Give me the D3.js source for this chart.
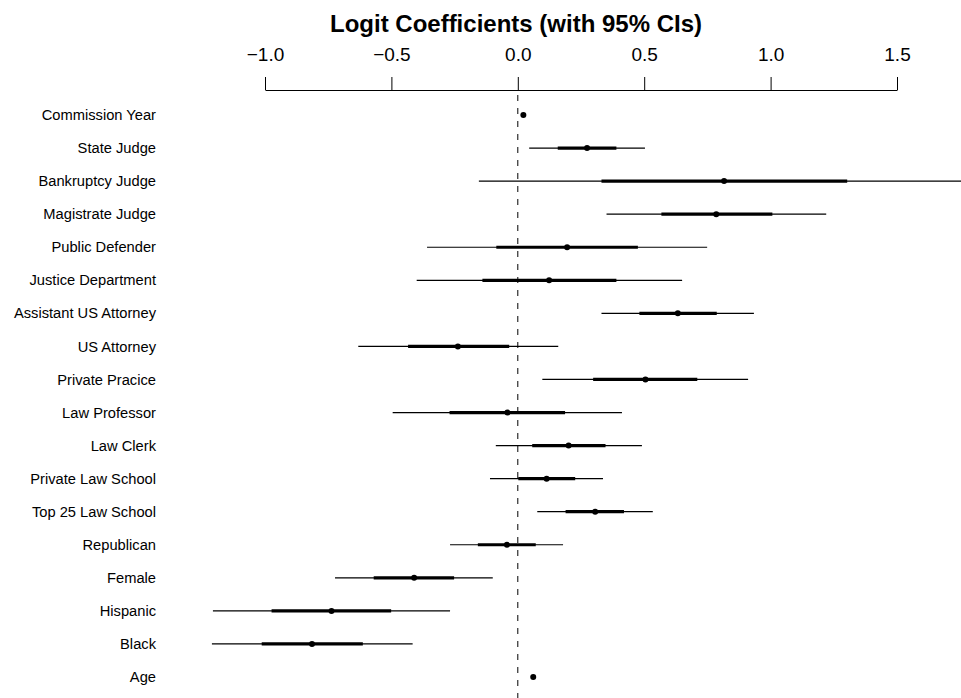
<!DOCTYPE html>
<html>
<head>
<meta charset="utf-8">
<script src="https://cdn.jsdelivr.net/npm/d3@7"></script>
<style>
  body { margin: 0; background: #fff; }
  text { font-family: "Liberation Sans", Arial, Helvetica, sans-serif; }
</style>
</head>
<body>
<div id="chart"></div>
<script>
// 1: DATA
const labels = ["Commission Year", "State Judge", "Bankruptcy Judge", "Magistrate Judge",
    "Public Defender", "Justice Department", "Assistant US Attorney", "US Attorney",
    "Private Pracice", "Law Professor", "Law Clerk", "Private Law School",
    "Top 25 Law School", "Republican", "Female", "Hispanic", "Black", "Age"];
const estimates = [0.022, 0.274, 0.816, 0.785, 0.195, 0.124, 0.633, -0.237,
    0.505, -0.041, 0.201, 0.114, 0.306, -0.043, -0.410, -0.737, -0.814, 0.061];
// +/- 1 SE (thick)
const innerLo = [0.018, 0.158, 0.331, 0.568, -0.085, -0.140, 0.481, -0.434,
    0.298, -0.270, 0.057, 0.002, 0.189, -0.158, -0.570, -0.974, -1.013, 0.057];
const innerHi = [0.026, 0.390, 1.303, 1.007, 0.475, 0.390, 0.787, -0.034,
    0.710, 0.187, 0.347, 0.227, 0.420, 0.071, -0.252, -0.501, -0.613, 0.065];
// 95% CI (thin)
const outerLo = [0.015, 0.045, -0.154, 0.351, -0.359, -0.400, 0.331, -0.631,
    0.097, -0.495, -0.087, -0.110, 0.077, -0.268, -0.723, -1.206, -1.210, 0.054];
const outerHi = [0.030, 0.503, 1.790, 1.220, 0.749, 0.650, 0.934, 0.160,
    0.911, 0.412, 0.491, 0.337, 0.534, 0.179, -0.099, -0.268, -0.416, 0.068];
const xTicks = [-1.0, -0.5, 0.0, 0.5, 1.0, 1.5];

const rows = labels.map((name, i) => ({
    name, est: estimates[i],
    lo1: innerLo[i], hi1: innerHi[i],
    lo2: outerLo[i], hi2: outerHi[i]
}));

// 2: SVG
const W = 961, H = 698;
const svg = d3.select("#chart").append("svg")
    .attr("width", W).attr("height", H);

// 3: SCALES
const x = d3.scaleLinear().domain([-1, 1.5]).range([265, 897]);
const y = d3.scalePoint().domain(labels).range([115, 677]);

// 4: AXIS (top)
const axisY = 90;
const axis = svg.append("g")
    .attr("transform", `translate(0,${axisY})`)
    .call(d3.axisTop(x)
        .tickValues(xTicks)
        .tickFormat(d => d3.format(".1f")(d).replace("-", "\u2212"))
        .tickSize(13)
        .tickSizeOuter(0)
        .tickPadding(16));
axis.select(".domain").attr("stroke", "#000").attr("stroke-width", 1);
axis.selectAll(".tick line").attr("stroke", "#000").attr("stroke-width", 1);
axis.selectAll(".tick text")
    .attr("fill", "#000")
    .style("font-size", "19px")
    .style("font-family", "'Liberation Sans', Arial, sans-serif");

// title
svg.append("text")
    .attr("x", 516)
    .attr("y", 32)
    .attr("text-anchor", "middle")
    .style("font-size", "24px")
    .style("font-weight", "bold")
    .text("Logit Coefficients (with 95% CIs)");

// zero reference line
svg.append("line")
    .attr("x1", x(0)).attr("x2", x(0))
    .attr("y1", 95).attr("y2", H)
    .attr("stroke", "#000")
    .attr("stroke-width", 1)
    .attr("stroke-dasharray", "6,7");

// 5: ROW LABELS
svg.selectAll(".row-label")
    .data(rows)
    .enter().append("text")
    .attr("class", "row-label")
    .attr("x", 156)
    .attr("y", d => y(d.name))
    .attr("dy", "0.35em")
    .attr("text-anchor", "end")
    .style("font-size", "14.7px")
    .text(d => d.name);

// 6: INTERVALS AND POINTS
svg.selectAll(".ci-outer")
    .data(rows)
    .enter().append("line")
    .attr("class", "ci-outer")
    .attr("x1", d => x(d.lo2)).attr("x2", d => x(d.hi2))
    .attr("y1", d => y(d.name)).attr("y2", d => y(d.name))
    .attr("stroke", "#000")
    .attr("stroke-width", 1.2);

svg.selectAll(".ci-inner")
    .data(rows)
    .enter().append("line")
    .attr("class", "ci-inner")
    .attr("x1", d => x(d.lo1)).attr("x2", d => x(d.hi1))
    .attr("y1", d => y(d.name)).attr("y2", d => y(d.name))
    .attr("stroke", "#000")
    .attr("stroke-width", 3.2);

svg.selectAll(".est")
    .data(rows)
    .enter().append("circle")
    .attr("class", "est")
    .attr("cx", d => x(d.est))
    .attr("cy", d => y(d.name))
    .attr("r", 3)
    .attr("fill", "#000");
</script>
</body>
</html>
